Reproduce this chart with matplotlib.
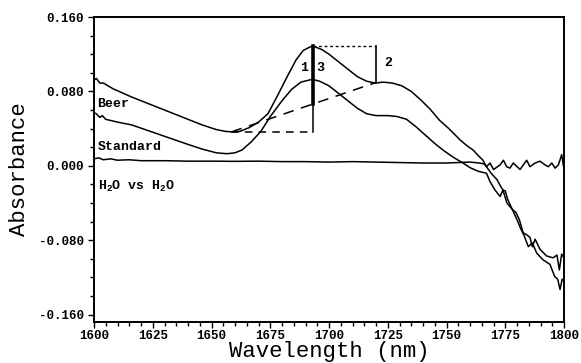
import matplotlib
matplotlib.use("Agg")
import matplotlib.pyplot as plt
from matplotlib.ticker import MultipleLocator, FormatStrFormatter

plt.rcParams['font.family'] = ['Liberation Mono', 'DejaVu Sans Mono']
plt.rcParams['font.weight'] = 'bold'
plt.rcParams['mathtext.fontset'] = 'custom'
plt.rcParams['mathtext.rm'] = 'Liberation Mono:bold'
plt.rcParams['mathtext.it'] = 'Liberation Mono:bold'

# beer spectrum (wavelength nm, absorbance)
beer_wl = [1600, 1601, 1602.5, 1604, 1608, 1616, 1624, 1632, 1640, 1646, 1652, 1656,
           1659, 1662, 1666, 1670, 1674, 1678, 1682, 1686, 1689, 1692, 1694, 1697,
           1700, 1704, 1708, 1712, 1716, 1719.6, 1723, 1727, 1731, 1735, 1739, 1743,
           1747, 1751, 1755.7, 1758.5, 1761.3, 1763.5, 1765.5, 1767, 1769, 1771.5,
           1773, 1774, 1775, 1776, 1778, 1779.5, 1781, 1782.6, 1784, 1785.5, 1786.5,
           1787.7, 1789.8, 1792.6, 1795.3, 1797, 1798, 1799, 1800]
beer_abs = [0.092, 0.094, 0.089, 0.089, 0.083, 0.074, 0.066, 0.058, 0.050, 0.044, 0.039, 0.037,
            0.0365, 0.037, 0.041, 0.047, 0.056, 0.075, 0.095, 0.114, 0.124, 0.128, 0.128, 0.125,
            0.120, 0.112, 0.104, 0.096, 0.091, 0.089, 0.090, 0.089, 0.086, 0.080, 0.071, 0.061,
            0.049, 0.040, 0.028, 0.022, 0.017, 0.011, 0.006, -0.001, -0.008, -0.015,
            -0.022, -0.026, -0.027, -0.036, -0.047, -0.050, -0.058, -0.072, -0.074, -0.077, -0.087,
            -0.079, -0.090, -0.097, -0.099, -0.096, -0.112, -0.095, -0.099]

# standard spectrum
std_wl = [1600, 1601, 1602.5, 1603.5, 1605, 1610, 1616, 1624, 1632, 1640, 1646, 1652,
          1656.6, 1660, 1663, 1667, 1671, 1675, 1680, 1684, 1688, 1692.8, 1696, 1700,
          1704, 1708, 1712, 1716, 1720, 1725, 1729, 1733, 1737, 1741, 1745, 1749, 1753,
          1757, 1760, 1763.6, 1767, 1768.5, 1770.6, 1772.8, 1774, 1775.7, 1778, 1780,
          1781.3, 1783, 1784.8, 1786.5, 1788.4, 1791, 1794, 1796, 1797.3, 1798.3, 1799.2, 1800]
std_abs = [0.057, 0.056, 0.052, 0.054, 0.050, 0.047, 0.044, 0.037, 0.030, 0.023, 0.018, 0.014,
           0.013, 0.014, 0.017, 0.026, 0.037, 0.053, 0.070, 0.082, 0.090, 0.093, 0.091, 0.086,
           0.078, 0.070, 0.062, 0.056, 0.054, 0.054, 0.053, 0.050, 0.042, 0.033, 0.024, 0.016, 0.009,
           0.003, -0.002, -0.006, -0.008, -0.017, -0.026, -0.033, -0.026, -0.040, -0.047, -0.058,
           -0.066, -0.075, -0.087, -0.083, -0.094, -0.101, -0.106, -0.119, -0.122, -0.133, -0.122, -0.124]

# water vs water reference
h2o_wl = [1600, 1602, 1604, 1607, 1610, 1615, 1620, 1630, 1640, 1650, 1660, 1670, 1680,
          1690, 1700, 1710, 1720, 1730, 1740, 1750, 1755, 1760, 1764, 1766, 1767, 1768.5,
          1770, 1772.8, 1774.2, 1775.6, 1777, 1778.4, 1781.3, 1782.7, 1784.1, 1785.5, 1787.7,
          1789.8, 1791.9, 1793.3, 1794.8, 1796.2, 1797.6, 1799, 1800]
h2o_abs = [0.0075, 0.0085, 0.0065, 0.0075, 0.006, 0.0065, 0.0055, 0.0055, 0.005, 0.005, 0.0048,
           0.005, 0.0045, 0.0045, 0.004, 0.0045, 0.004, 0.0035, 0.003, 0.003, 0.0035, 0.004, 0.003,
           0.002, -0.001, 0.003, -0.004, 0.001, 0.006, -0.001, -0.0025, 0.003, -0.004, 0.001, 0.006,
           -0.001, 0.003, 0.005, 0.001, -0.001, 0.003, -0.0025, 0.001, 0.012, -0.004]

# band-height construction points
base_wl, peak_wl, shoulder_wl = 1658.5, 1693, 1719.8
base_abs, peak_abs, shoulder_abs = 0.0365, 0.1285, 0.0895
slope_at_peak = 0.0665

fig = plt.figure(figsize=(5.81, 3.63), dpi=100)
ax = fig.add_axes([0.1618, 0.113, 0.809, 0.84])

ax.plot(beer_wl, beer_abs, color='black', lw=1.1)
ax.plot(std_wl, std_abs, color='black', lw=1.1)
ax.plot(h2o_wl, h2o_abs, color='black', lw=1.1)

ax.plot([base_wl, peak_wl], [base_abs, base_abs], color='black', lw=1.1, ls=(0, (5, 4)))
ax.plot([base_wl, shoulder_wl], [base_abs, shoulder_abs], color='black', lw=1.1, ls=(0, (7, 5)))
ax.plot([peak_wl, shoulder_wl], [peak_abs, peak_abs], color='black', lw=1.0, ls=(0, (2, 2)))
ax.plot([peak_wl, peak_wl], [base_abs, peak_abs], color='black', lw=1.1)
ax.plot([peak_wl, peak_wl], [slope_at_peak, peak_abs], color='black', lw=2.6)
ax.plot([shoulder_wl, shoulder_wl], [shoulder_abs, peak_abs], color='black', lw=1.2)

ax.text(1601.5, 0.067, 'Beer', fontsize=9.5, va='center')
ax.text(1601.5, 0.020, 'Standard', fontsize=9.5, va='center')
ax.text(1601.5, -0.0225, 'H$_2$O vs H$_2$O', fontsize=9.5, va='center')
ax.text(1691.3, 0.105, '1', fontsize=9.5, va='center', ha='right')
ax.text(1694.5, 0.105, '3', fontsize=9.5, va='center', ha='left')
ax.text(1723.5, 0.111, '2', fontsize=9.5, va='center', ha='left')

ax.set_xlim(1600, 1800)
ax.set_ylim(-0.168, 0.160)
ax.xaxis.set_major_locator(MultipleLocator(25))
ax.xaxis.set_minor_locator(MultipleLocator(5))
ax.yaxis.set_major_locator(MultipleLocator(0.08))
ax.yaxis.set_minor_locator(MultipleLocator(0.02))
ax.yaxis.set_major_formatter(FormatStrFormatter('%.3f'))
ax.tick_params(which='both', direction='out', width=1.0, labelsize=9)
ax.tick_params(which='major', length=4)
ax.tick_params(which='minor', length=3)
ax.tick_params(axis='x', pad=2)
for s in ax.spines.values():
    s.set_linewidth(1.4)

ax.set_xlabel('Wavelength (nm)', fontsize=16, labelpad=-1)
ax.set_ylabel('Absorbance', fontsize=16, labelpad=6)

fig.savefig('out.png', dpi=100)
